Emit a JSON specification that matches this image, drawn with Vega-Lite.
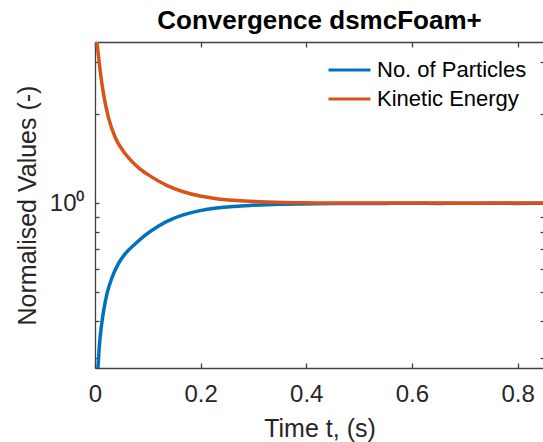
{
  "$schema": "https://vega.github.io/schema/vega-lite/v6.json",
  "autosize": "none",
  "padding": {"left": 95, "top": 42, "right": 0, "bottom": 74},
  "width": 449,
  "height": 326,
  "title": {"text": "Convergence dsmcFoam+", "fontSize": 26, "fontWeight": "bold", "font": "Liberation Sans", "color": "black", "anchor": "middle", "offset": 3},
  "config": {"view": {"stroke": null}, "font": "Liberation Sans"},
  "data": {"values": [
    {"t": 0.0045, "v": 0.265, "s": "No. of Particles"},
    {"t": 0.0057, "v": 0.28, "s": "No. of Particles"},
    {"t": 0.0081, "v": 0.327, "s": "No. of Particles"},
    {"t": 0.0119, "v": 0.382, "s": "No. of Particles"},
    {"t": 0.0165, "v": 0.435, "s": "No. of Particles"},
    {"t": 0.0227, "v": 0.495, "s": "No. of Particles"},
    {"t": 0.0322, "v": 0.561, "s": "No. of Particles"},
    {"t": 0.0448, "v": 0.628, "s": "No. of Particles"},
    {"t": 0.0573, "v": 0.676, "s": "No. of Particles"},
    {"t": 0.0763, "v": 0.73, "s": "No. of Particles"},
    {"t": 0.0952, "v": 0.781, "s": "No. of Particles"},
    {"t": 0.1205, "v": 0.839, "s": "No. of Particles"},
    {"t": 0.1456, "v": 0.884, "s": "No. of Particles"},
    {"t": 0.167, "v": 0.914, "s": "No. of Particles"},
    {"t": 0.199, "v": 0.945, "s": "No. of Particles"},
    {"t": 0.23, "v": 0.964, "s": "No. of Particles"},
    {"t": 0.262, "v": 0.976, "s": "No. of Particles"},
    {"t": 0.293, "v": 0.984, "s": "No. of Particles"},
    {"t": 0.325, "v": 0.9893, "s": "No. of Particles"},
    {"t": 0.356, "v": 0.9926, "s": "No. of Particles"},
    {"t": 0.39, "v": 0.995, "s": "No. of Particles"},
    {"t": 0.42, "v": 0.9967, "s": "No. of Particles"},
    {"t": 0.46, "v": 0.998, "s": "No. of Particles"},
    {"t": 0.5, "v": 0.999, "s": "No. of Particles"},
    {"t": 0.55, "v": 0.9995, "s": "No. of Particles"},
    {"t": 0.6, "v": 1.0, "s": "No. of Particles"},
    {"t": 0.65, "v": 0.9995, "s": "No. of Particles"},
    {"t": 0.7, "v": 1.0, "s": "No. of Particles"},
    {"t": 0.75, "v": 1.0, "s": "No. of Particles"},
    {"t": 0.8, "v": 0.9995, "s": "No. of Particles"},
    {"t": 0.85, "v": 1.0, "s": "No. of Particles"},
    {"t": 0.002, "v": 3.65, "s": "Kinetic Energy"},
    {"t": 0.0038, "v": 3.47, "s": "Kinetic Energy"},
    {"t": 0.007, "v": 3.1, "s": "Kinetic Energy"},
    {"t": 0.01, "v": 2.786, "s": "Kinetic Energy"},
    {"t": 0.0165, "v": 2.32, "s": "Kinetic Energy"},
    {"t": 0.0259, "v": 1.937, "s": "Kinetic Energy"},
    {"t": 0.0385, "v": 1.665, "s": "Kinetic Energy"},
    {"t": 0.0573, "v": 1.47, "s": "Kinetic Energy"},
    {"t": 0.0826, "v": 1.318, "s": "Kinetic Energy"},
    {"t": 0.104, "v": 1.238, "s": "Kinetic Energy"},
    {"t": 0.1356, "v": 1.15, "s": "Kinetic Energy"},
    {"t": 0.167, "v": 1.094, "s": "Kinetic Energy"},
    {"t": 0.199, "v": 1.058, "s": "Kinetic Energy"},
    {"t": 0.23, "v": 1.037, "s": "Kinetic Energy"},
    {"t": 0.262, "v": 1.024, "s": "Kinetic Energy"},
    {"t": 0.293, "v": 1.016, "s": "Kinetic Energy"},
    {"t": 0.325, "v": 1.01, "s": "Kinetic Energy"},
    {"t": 0.356, "v": 1.006, "s": "Kinetic Energy"},
    {"t": 0.39, "v": 1.004, "s": "Kinetic Energy"},
    {"t": 0.42, "v": 1.003, "s": "Kinetic Energy"},
    {"t": 0.46, "v": 1.002, "s": "Kinetic Energy"},
    {"t": 0.5, "v": 1.0025, "s": "Kinetic Energy"},
    {"t": 0.55, "v": 1.002, "s": "Kinetic Energy"},
    {"t": 0.6, "v": 1.0025, "s": "Kinetic Energy"},
    {"t": 0.65, "v": 1.002, "s": "Kinetic Energy"},
    {"t": 0.7, "v": 1.0015, "s": "Kinetic Energy"},
    {"t": 0.75, "v": 1.002, "s": "Kinetic Energy"},
    {"t": 0.8, "v": 1.0025, "s": "Kinetic Energy"},
    {"t": 0.85, "v": 1.002, "s": "Kinetic Energy"}
  ]},
  "layer": [
    {
      "mark": {"type": "line", "strokeWidth": 3.5, "clip": true, "interpolate": "monotone"},
      "encoding": {
        "x": {"field": "t", "type": "quantitative",
          "scale": {"domain": [0, 0.85], "nice": false, "zero": false},
          "axis": {"orient": "bottom", "values": [0, 0.2, 0.4, 0.6, 0.8], "format": "~g", "grid": false, "labelFlush": false,
            "domain": true, "ticks": true, "domainWidth": 1.3, "tickWidth": 1.3,
            "tickSize": -5, "tickColor": "#404040", "domainColor": "#404040",
            "labelFontSize": 24, "labelColor": "#262626", "labelPadding": 19, "labelFont": "Liberation Sans",
            "title": "Time t, (s)", "titleFontSize": 25, "titleFontWeight": "normal", "titleColor": "#262626", "titleFont": "Liberation Sans", "titlePadding": 10}},
        "y": {"field": "v", "type": "quantitative",
          "scale": {"type": "log", "domain": [0.2777, 3.508], "nice": false, "zero": false},
          "axis": {"orient": "left", "values": [0.3, 0.4, 0.5, 0.6, 0.7, 0.8, 0.9, 1, 2, 3], "labelExpr": "datum.value == 1 ? '10⁰' : ''", "grid": false,
            "domainWidth": 1.3, "tickWidth": 1.3,
            "tickSize": -4, "tickColor": "#404040", "domainColor": "#404040",
            "labelFontSize": 24, "labelColor": "#262626", "labelPadding": 15, "labelFont": "Liberation Sans",
            "title": "Normalised Values (-)", "titleFontSize": 25, "titleFontWeight": "normal", "titleColor": "#262626", "titleFont": "Liberation Sans", "titlePadding": 9}},
        "color": {"field": "s", "type": "nominal",
          "scale": {"domain": ["No. of Particles", "Kinetic Energy"], "range": ["#0072BD", "#D95319"]},
          "legend": {"title": null, "orient": "none", "legendX": 232, "legendY": 16, "symbolType": "M-1,0H3", "symbolSize": 441, "symbolStrokeWidth": 3,
            "labelFontSize": 22, "labelColor": "black", "labelFont": "Liberation Sans", "labelOffset": 26, "rowPadding": 6}}
      }
    },
    {
      "mark": {"type": "line", "opacity": 0},
      "encoding": {
        "x": {"field": "t", "type": "quantitative",
          "axis": {"orient": "top", "values": [0, 0.2, 0.4, 0.6, 0.8], "labels": false, "title": null, "grid": false, "domain": true, "domainWidth": 1.3, "tickWidth": 1.3, "tickSize": -5, "tickColor": "#404040", "domainColor": "#404040"}},
        "y": {"field": "v", "type": "quantitative",
          "axis": {"orient": "right", "values": [0.3, 0.4, 0.5, 0.6, 0.7, 0.8, 0.9, 1, 2, 3], "labels": false, "title": null, "grid": false, "domainWidth": 1.3, "tickWidth": 1.3, "tickSize": -4, "tickColor": "#404040", "domainColor": "#404040"}}
      }
    }
  ],
  "resolve": {"axis": {"x": "independent", "y": "independent"}}
}
